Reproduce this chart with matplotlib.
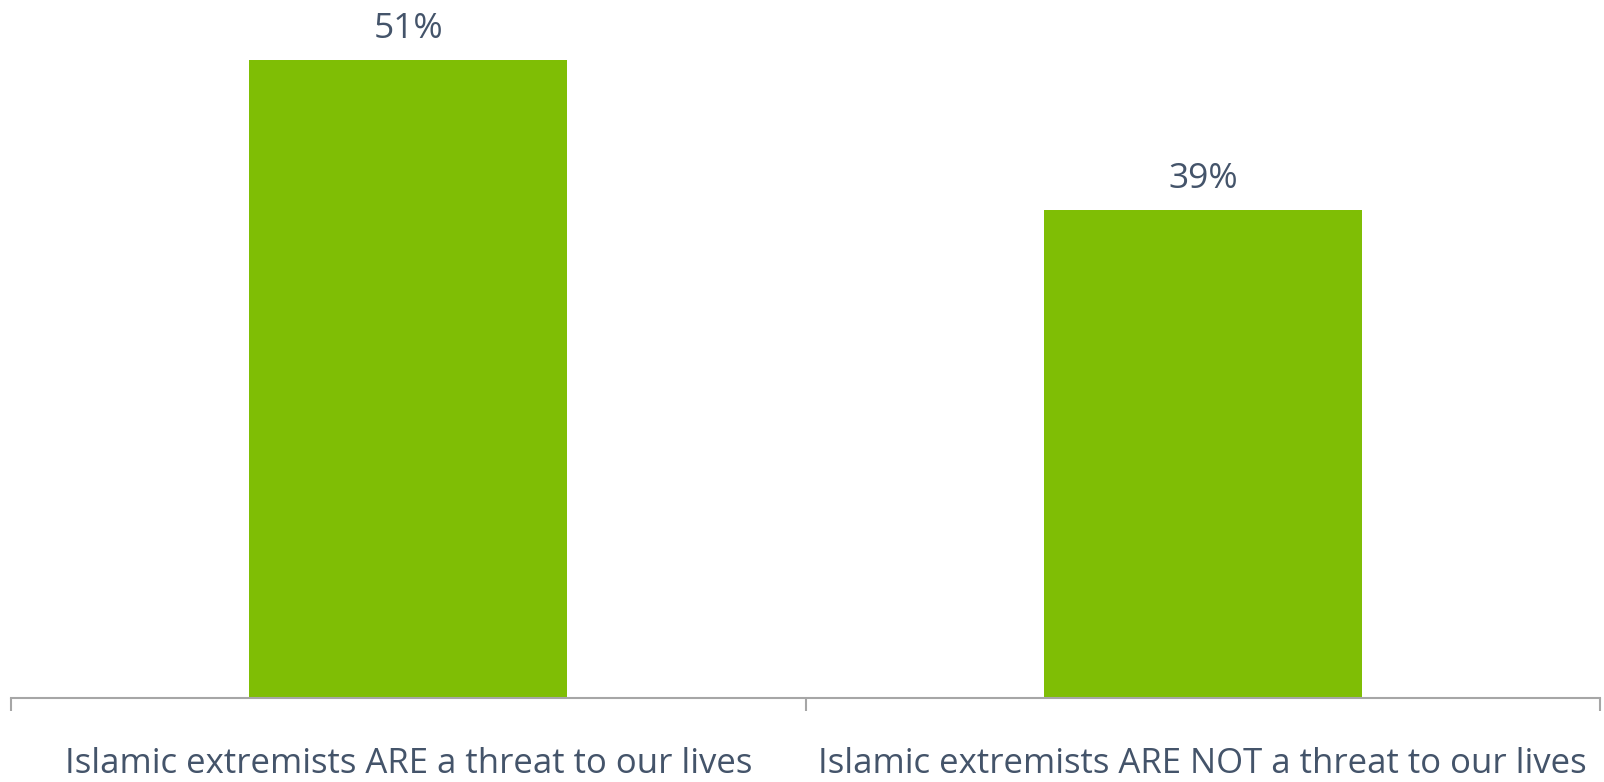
import matplotlib
matplotlib.use("Agg")
import matplotlib.pyplot as plt
from matplotlib.ticker import FixedLocator

categories = ["Islamic extremists ARE a threat to our lives",
              "Islamic extremists ARE NOT a threat to our lives"]
values = [51, 39]
value_labels = ["51%", "39%"]

bar_color = "#7FBE05"
text_color = "#44546A"
axis_color = "#A6A6A6"
font = ["Open Sans", "DejaVu Sans"]

fig = plt.figure(figsize=(16.04, 7.82), dpi=100)
ax = fig.add_axes([11/1604, 84/782, 1589/1604, 698/782])

x = list(range(len(categories)))
bars = ax.bar(x, values, width=0.4, color=bar_color, linewidth=0, zorder=2)
ax.set_xlim(-0.5, len(categories) - 0.5)
ax.set_ylim(0, 55.8)

for b, lab in zip(bars, value_labels):
    ax.annotate(lab, (b.get_x() + b.get_width() / 2, b.get_height()),
                xytext=(0, 10), textcoords="offset points",
                ha="center", va="bottom", fontsize=25.5, color=text_color,
                family=font)

for s in ["top", "left", "right"]:
    ax.spines[s].set_visible(False)
ax.spines["bottom"].set_color(axis_color)
ax.spines["bottom"].set_linewidth(1.5)
ax.set_yticks([])

ax.set_xticks(x)
ax.set_xticklabels(categories, fontsize=25, color=text_color, family=font)
ax.tick_params(axis="x", which="major", length=0, pad=35)
ax.xaxis.set_minor_locator(FixedLocator([-0.5, 0.5, 1.5]))
ax.tick_params(axis="x", which="minor", length=9, width=1.5, color=axis_color, direction="out")

fig.savefig("out.png", dpi=100)
